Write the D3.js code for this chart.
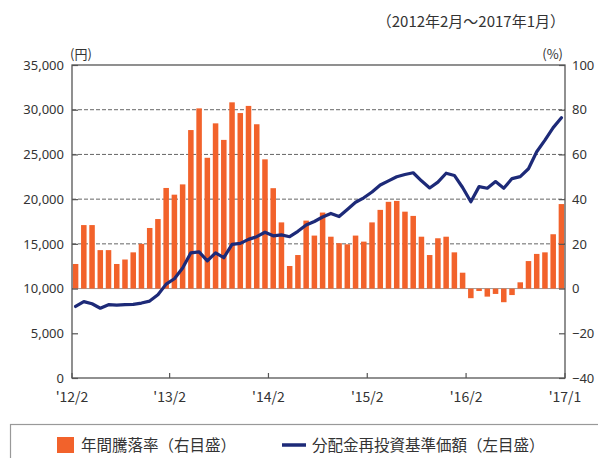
<!DOCTYPE html>
<html><head><meta charset="utf-8">
<script src="https://cdn.jsdelivr.net/npm/d3@7"></script>
<style>
body{margin:0;background:#fff;}
svg{display:block;font-family:"Noto Sans CJK JP","Noto Sans",sans-serif;}
</style></head>
<body><svg id="c" width="598" height="458"></svg>
<script>
const months = ["2012-02","2012-03","2012-04","2012-05","2012-06","2012-07","2012-08","2012-09","2012-10","2012-11","2012-12","2013-01",
"2013-02","2013-03","2013-04","2013-05","2013-06","2013-07","2013-08","2013-09","2013-10","2013-11","2013-12","2014-01",
"2014-02","2014-03","2014-04","2014-05","2014-06","2014-07","2014-08","2014-09","2014-10","2014-11","2014-12","2015-01",
"2015-02","2015-03","2015-04","2015-05","2015-06","2015-07","2015-08","2015-09","2015-10","2015-11","2015-12","2016-01",
"2016-02","2016-03","2016-04","2016-05","2016-06","2016-07","2016-08","2016-09","2016-10","2016-11","2016-12","2017-01"];
// 年間騰落率 (%) right axis
const annualReturn = [11,28.4,28.4,17.2,17.2,11,13,16.2,20,27.1,31.1,45,
42,46.6,70.9,80.6,58.5,73.9,66.5,83.3,78.5,81.7,73.5,57.8,
44.9,29.6,10.1,15,30.4,23.7,34,23.2,20.3,19.8,23.7,21,
29.6,35.2,38.8,39.2,34.4,32.5,23.2,15,22.5,23.2,16.2,7.1,
-4.3,-1.1,-3.6,-2.4,-6.1,-2.9,2.8,12.3,15.5,16.2,24.3,37.8];
// 分配金再投資基準価額 (円) left axis
const navReinvested = [8000,8540,8300,7800,8200,8150,8200,8240,8380,8600,9300,10500,
11100,12300,14000,14100,13100,14000,13450,14950,15050,15500,15800,16300,
15900,16000,15800,16400,17100,17500,18000,18400,18050,18850,19650,20150,
20800,21580,22050,22500,22750,22950,22050,21250,21900,22900,22650,21300,
19700,21400,21220,21960,21220,22300,22520,23400,25300,26600,28000,29100];
const leftTicks = [0,5000,10000,15000,20000,25000,30000,35000];
const rightTicks = [-40,-20,0,20,40,60,80,100];
const gridYen = [15000,20000,25000,30000];
const xTickMonths = ["2012-02","2013-02","2014-02","2015-02","2016-02","2017-01"];
const xTickLabels = ["'12/2","'13/2","'14/2","'15/2","'16/2","'17/1"];
const title = "（2012年2月～2017年1月）";
const leftUnit = "(円)", rightUnit = "(%)";
const legendBar = "年間騰落率（右目盛）", legendLine = "分配金再投資基準価額（左目盛）";

const L=72,R=565,T=65,B=378;
const svg=d3.select("#c");
const x=d3.scaleBand().domain(months).range([L,R]).paddingInner(0.33).paddingOuter(0.1);
const yL=d3.scaleLinear().domain([0,35000]).range([B,T]);
const yR=d3.scaleLinear().domain([-40,100]).range([B,T]);
const textCol="#333";
const orange="#F2622B", navy="#1D2A78";

// grid
svg.append("g").selectAll("line").data(gridYen).join("line")
 .attr("x1",L).attr("x2",R).attr("y1",d=>yL(d)).attr("y2",d=>yL(d))
 .attr("stroke","#666").attr("stroke-width",1).attr("stroke-dasharray","4,2");
svg.append("line").attr("x1",L).attr("x2",R).attr("y1",yR(0)).attr("y2",yR(0))
 .attr("stroke","#999").attr("stroke-width",1);

// bars
svg.append("g").selectAll("rect").data(annualReturn).join("rect")
 .attr("x",(d,i)=>x(months[i])).attr("width",x.bandwidth())
 .attr("y",d=>yR(Math.max(0,d))).attr("height",d=>Math.abs(yR(d)-yR(0)))
 .attr("fill",orange);

// line
const line=d3.line().x((d,i)=>x(months[i])+x.bandwidth()/2).y(d=>yL(d));
svg.append("path").datum(navReinvested).attr("d",line)
 .attr("fill","none").attr("stroke",navy).attr("stroke-width",3.2)
 .attr("stroke-linejoin","round").attr("stroke-linecap","round");

// frame
svg.append("rect").attr("x",L).attr("y",T).attr("width",R-L).attr("height",B-T)
 .attr("fill","none").attr("stroke","#555").attr("stroke-width",1.3);

// left axis
const axL=d3.axisLeft(yL).tickValues(leftTicks).tickSize(-6).tickPadding(8).tickFormat(d3.format(","));
const gL=svg.append("g").attr("transform",`translate(${L},0)`).call(axL);
// right axis
const axR=d3.axisRight(yR).tickValues(rightTicks).tickSize(-6).tickPadding(7).tickFormat(d=>d<0?"−"+Math.abs(d):d);
const gR=svg.append("g").attr("transform",`translate(${R},0)`).call(axR);
// bottom axis
const xPos=(m,i)=> i===0?L:(i===xTickMonths.length-1?R:x(m)-2);
const xl=d3.scaleOrdinal().domain(xTickMonths).range(xTickMonths.map(xPos));
const gB=svg.append("g");
gB.selectAll("line").data(xTickMonths).join("line")
 .attr("x1",d=>xl(d)).attr("x2",d=>xl(d)).attr("y1",B).attr("y2",B-5)
 .attr("stroke","#555").attr("stroke-width",1.2);
gB.selectAll("text").data(xTickMonths).join("text")
 .attr("x",d=>xl(d)).attr("y",401.5).attr("text-anchor","middle")
 .attr("font-size",14).attr("fill",textCol).text((d,i)=>xTickLabels[i]);

[gL,gR].forEach(g=>{
 g.select(".domain").remove();
 g.selectAll(".tick line").attr("stroke","#555").attr("stroke-width",1.2);
 g.selectAll(".tick text").attr("font-size",13).attr("fill",textCol).attr("font-family",'"Noto Sans","Noto Sans CJK JP",sans-serif');
});

// titles
svg.append("text").attr("x",565).attr("y",27).attr("text-anchor","end")
 .attr("font-size",15).attr("fill",textCol).text(title);
svg.append("text").attr("x",70).attr("y",59).attr("font-size",13).attr("fill",textCol).text(leftUnit);
svg.append("text").attr("x",563).attr("y",59).attr("text-anchor","end").attr("font-size",13).attr("fill",textCol).text(rightUnit);

// legend
svg.append("rect").attr("x",10.5).attr("y",424.5).attr("width",600).attr("height",60)
 .attr("fill","none").attr("stroke","#999").attr("stroke-width",1.2);
svg.append("rect").attr("x",57).attr("y",437).attr("width",17).attr("height",16).attr("fill",orange);
svg.append("text").attr("x",81).attr("y",451).attr("font-size",15.5).attr("fill",textCol).text(legendBar);
svg.append("line").attr("x1",282).attr("x2",306).attr("y1",445).attr("y2",445)
 .attr("stroke",navy).attr("stroke-width",3.5);
svg.append("text").attr("x",312).attr("y",451).attr("font-size",15.5).attr("fill",textCol).text(legendLine);
</script></body></html>
